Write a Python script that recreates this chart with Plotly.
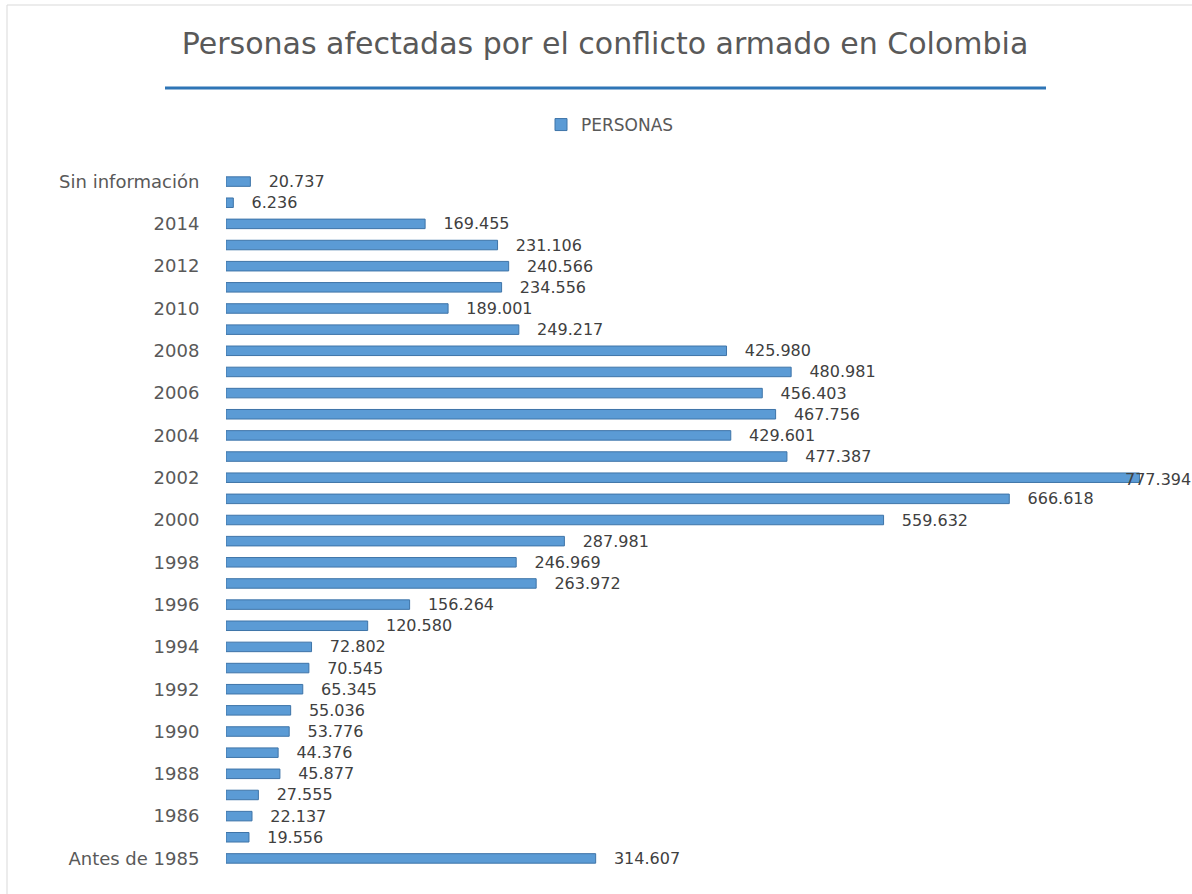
import plotly.graph_objects as go

categories = ["Antes de 1985", "1985", "1986", "1987", "1988", "1989", "1990", "1991",
              "1992", "1993", "1994", "1995", "1996", "1997", "1998", "1999", "2000",
              "2001", "2002", "2003", "2004", "2005", "2006", "2007", "2008", "2009",
              "2010", "2011", "2012", "2013", "2014", "2015", "Sin información"]
personas = [314607, 19556, 22137, 27555, 45877, 44376, 53776, 55036,
            65345, 70545, 72802, 120580, 156264, 263972, 246969, 287981, 559632,
            666618, 777394, 477387, 429601, 467756, 456403, 480981, 425980, 249217,
            189001, 234556, 240566, 231106, 169455, 6236, 20737]
tick_labels = ["Antes de 1985", "1986", "1988", "1990", "1992", "1994", "1996", "1998",
               "2000", "2002", "2004", "2006", "2008", "2010", "2012", "2014", "Sin información"]

W, H = 1192, 894
L, R, T, B = 226, 26, 171, 25
pw, ph = W - L - R, H - T - B

def px(x):
    return (x - L) / pw

def py(y):
    return (H - B - y) / ph

def fmt(v):
    return f"{v:,}".replace(",", ".")

vmax = max(personas)
imax = personas.index(vmax)
labels = ["" if i == imax else "   " + fmt(v) for i, v in enumerate(personas)]

lab_font = dict(family="DejaVu Sans", size=16, color="#404040")

fig = go.Figure()
fig.add_trace(go.Bar(
    y=categories, x=personas, orientation="h", name="PERSONAS",
    marker=dict(color="#5B9BD5", line=dict(color="#3E74A8", width=1)),
    text=labels, textposition="outside", constraintext="none",
    cliponaxis=False, textfont=lab_font, hoverinfo="skip",
))

fig.update_layout(
    width=W, height=H,
    margin=dict(l=L, r=R, t=T, b=B),
    paper_bgcolor="white", plot_bgcolor="white",
    bargap=0.55,
    showlegend=True,
    title=dict(text="Personas afectadas por el conflicto armado en Colombia",
               font=dict(family="DejaVu Sans", size=30, color="#595959"),
               xref="container", x=605 / W, xanchor="center",
               yref="container", y=1 - 43 / H, yanchor="middle"),
    legend=dict(orientation="h", xref="paper", x=px(610), xanchor="center",
                yref="paper", y=py(125), yanchor="middle",
                font=dict(family="DejaVu Sans", size=17, color="#595959"),
                itemwidth=30),
    xaxis=dict(range=[0, 800000], showgrid=False, zeroline=False,
               showticklabels=False, showline=False, ticks=""),
    yaxis=dict(type="category", categoryorder="array", categoryarray=categories,
               range=[-0.5, len(categories) - 0.5], autorange=False,
               tickmode="array", tickvals=tick_labels, ticktext=tick_labels,
               ticks="outside", ticklen=22, tickcolor="rgba(0,0,0,0)",
               showgrid=False, zeroline=False, showline=False,
               tickfont=dict(family="DejaVu Sans", size=18, color="#595959")),
    annotations=[dict(x=vmax, y=imax, xref="x", yref="y",
                      text=fmt(vmax), showarrow=False, xanchor="left",
                      xshift=-16, yshift=-2, font=lab_font)],
    shapes=[
        dict(type="rect", xref="paper", yref="paper",
             x0=px(7), x1=px(1220), y0=py(900), y1=py(5),
             line=dict(color="#D9D9D9", width=1), fillcolor="rgba(0,0,0,0)", layer="below"),
        dict(type="line", xref="paper", yref="paper",
             x0=px(165), x1=px(1046), y0=py(88), y1=py(88),
             line=dict(color="#2E75B6", width=3)),
    ],
)

fig.write_html("out.html")
